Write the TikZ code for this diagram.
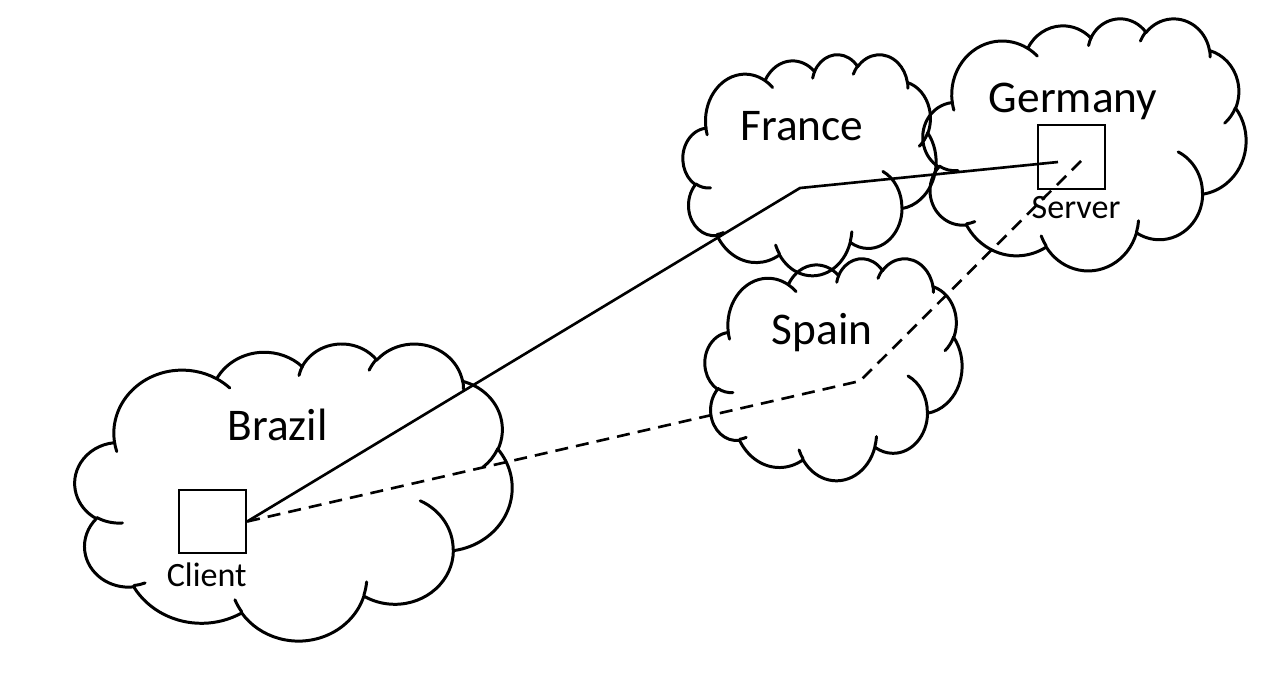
\documentclass[tikz,border=0pt]{standalone}
\usepackage{fontspec}
\setmainfont{Carlito}

\tikzset{
  cloudline/.style={draw=black,line width=1.7pt,line join=round,line cap=round},
  cldarc/.style n args={4}{insert path={arc[x radius=#1,y radius=#2,
      start angle={atan2(#1*sin(#3),#2*cos(#3))},
      delta angle={mod(atan2(#1*sin(#3+#4),#2*cos(#3+#4))-atan2(#1*sin(#3),#2*cos(#3))+720,360)}]}}
}

% cloud with top left corner (#1,#2), width #3 and height #4
\newcommand\countrycloud[4]{%
  \begin{scope}[shift={(#1,#2)},x=1cm,y=1cm,xscale=#3*0.02/43.2,yscale=-#4*0.02/43.2]
    % outline
    \draw[cloudline] (3.900,14.370)
      [cldarc={6.753}{9.190}{-190.48748}{123.78053}]
      [cldarc={5.333}{7.267}{-144.10238}{89.94523}]
      [cldarc={4.365}{5.945}{-145.80792}{99.72302}]
      [cldarc={4.857}{6.595}{-130.98607}{117.24173}]
      [cldarc={5.333}{7.273}{-78.70888}{109.02692}]
      [cldarc={6.775}{9.220}{-46.26725}{130.26900}]
      [cldarc={5.785}{7.867}{0.62502}{114.03333}]
      [cldarc={6.752}{9.215}{22.45160}{115.17255}]
      [cldarc={7.720}{10.543}{66.24263}{75.71102}]
      [cldarc={4.360}{5.918}{-274.94208}{146.73557}]
      [cldarc={4.345}{5.945}{-246.82850}{152.51885}] -- cycle;
    % inner ticks
    \draw[cloudline]
      (4.693,26.177) [cldarc={4.345}{5.945}{86.742}{26.4295}]
      (6.928,34.899) [cldarc={4.360}{5.918}{73.61047}{11.44747}]
      (16.478,39.090) [cldarc={6.752}{9.215}{137.62415}{14.0811}]
      (28.827,34.751) [cldarc={6.752}{9.215}{6.45327}{15.99835}]
      (34.129,22.954) [cldarc={5.785}{7.867}{-70.29235}{70.91737}]
      (41.798,15.354) [cldarc={5.333}{7.273}{30.31803}{27.7515}]
      (38.324,5.426) [cldarc={4.857}{6.595}{-13.74433}{14.8589}]
      (29.078,3.952) [cldarc={4.857}{6.595}{-149.18145}{18.19537}]
      (22.141,4.720) [cldarc={4.365}{5.945}{-163.49427}{17.68635}]
      (14.000,5.192) [cldarc={6.753}{9.190}{-66.70695}{12.31935}]
      (4.127,15.789) [cldarc={6.753}{9.190}{157.65435}{11.85817}];
  \end{scope}}

\begin{document}
\begin{tikzpicture}[x=0.02cm,y=-0.02cm,
    countrylabel/.style={anchor=base,inner sep=0pt,font=\fontsize{25.8pt}{31pt}\selectfont},
    hostlabel/.style={anchor=base,inner sep=0pt,font=\fontsize{19.4pt}{23pt}\selectfont},
    hostbox/.style={draw,line width=1.3pt,inner sep=0pt,minimum width=1.34cm,minimum height=1.27cm},
    link/.style={line width=1.5pt,line join=round}]
  \useasboundingbox (0,0) rectangle (1282,674);
  % clouds
  \countrycloud{75}{343}{437}{297}
  \countrycloud{683}{54}{253}{221}
  \countrycloud{705}{258}{257}{222}
  \countrycloud{923}{18}{323}{252}
  % countries
  \node[countrylabel] (brazil)  at (277.5,440) {Brazil};
  \node[countrylabel] (france)  at (802,140)   {France};
  \node[countrylabel] (spain)   at (822,344)   {Spain};
  \node[countrylabel] (germany) at (1073,112)  {Germany};
  % hosts
  \node[hostbox]   (client)      at (212.5,521.5) {};
  \node[hostlabel] (clientlabel) at (206.7,586)   {Client};
  \node[hostbox]   (server)      at (1071.5,157)  {};
  \node[hostlabel] (serverlabel) at (1076,218.3)  {Server};
  % routes
  \coordinate (francehop) at (800,188);
  \coordinate (spainhop)  at (860,381);
  \coordinate (srvsolid)  at (1058,162);
  \coordinate (srvdash)   at (1082,160);
  \draw[link] (client.east) -- (francehop) -- (srvsolid);
  \draw[link,dash pattern=on 7.4pt off 4.6pt] (client.east) -- (spainhop) -- (srvdash);
\end{tikzpicture}
\end{document}
